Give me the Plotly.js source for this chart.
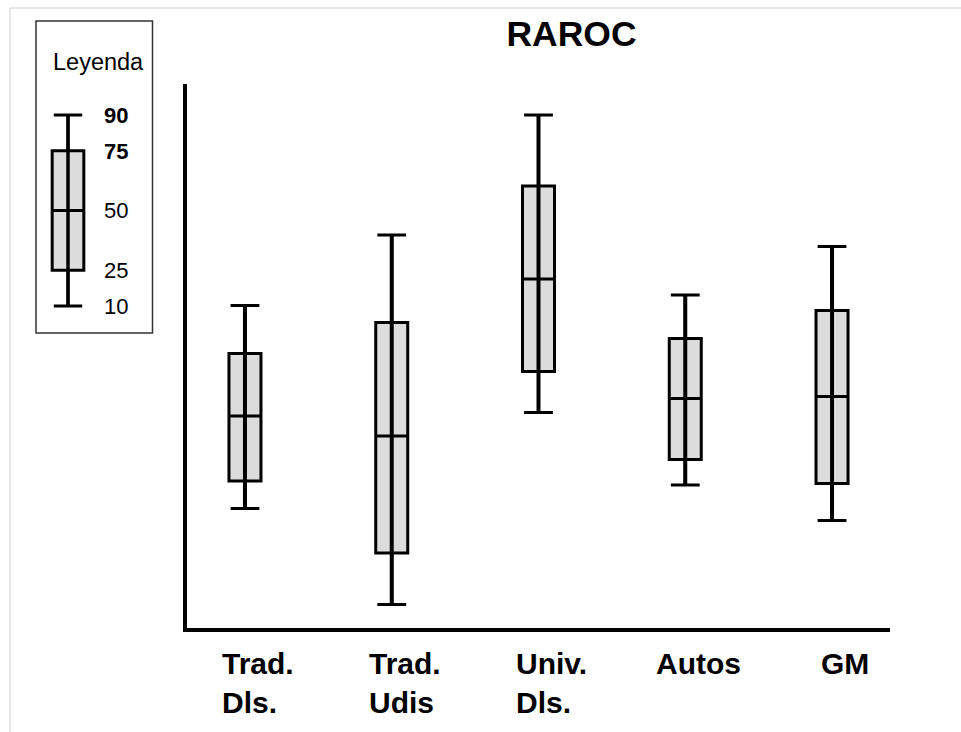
<!DOCTYPE html>
<html>
<head>
<meta charset="utf-8">
<script src="https://cdn.plot.ly/plotly-3.0.1.min.js"></script>
<style>html,body{margin:0;padding:0;background:#fff;}#chart{width:961px;height:732px;}</style>
</head>
<body>
<div id="chart"></div>
<script>
// Categories (two-line labels)
const categories = ["Trad.<br>Dls.", "Trad.<br>Udis", "Univ.<br>Dls.", "Autos", "GM"];
// Percentiles per category (arbitrary RAROC scale)
const p10 = [11.95, 2.35, 21.55, 14.3, 10.75];
const p25 = [14.7, 7.5, 25.65, 16.85, 14.45];
const p50 = [21.2, 19.2, 34.9, 22.95, 23.15];
const p75 = [27.45, 30.55, 44.2, 28.95, 31.75];
const p90 = [32.25, 39.3, 51.3, 33.3, 38.15];

// Legend sample box
const legendPercentiles = [10, 25, 50, 75, 90];
const legendTickText = ["10", "25", "50", "<b>75</b>", "<b>90</b>"];
const legendTitle = "Leyenda";
const chartTitle = "RAROC";

const W = 961, H = 732;
const px = v => v / W;
const py = v => 1 - v / H;

const xIdx = categories.map((_, i) => i);

// vertical center line through each box (from p10 to p90)
const vx = [], vy = [];
xIdx.forEach(i => { vx.push(i, i, null); vy.push(p10[i], p90[i], null); });

const boxTrace = {
  type: "box",
  x: xIdx,
  q1: p25, median: p50, q3: p75,
  lowerfence: p10, upperfence: p90,
  width: 0.218,
  whiskerwidth: 0.9,
  fillcolor: "#dcdcdc",
  line: {color: "#000", width: 3},
  hoverinfo: "skip",
  xaxis: "x", yaxis: "y"
};
const stemTrace = {
  type: "scatter", mode: "lines",
  x: vx, y: vy,
  line: {color: "#000", width: 4},
  hoverinfo: "skip", xaxis: "x", yaxis: "y"
};

const legBox = {
  type: "box",
  x: [0],
  q1: [legendPercentiles[1]], median: [legendPercentiles[2]], q3: [legendPercentiles[3]],
  lowerfence: [legendPercentiles[0]], upperfence: [legendPercentiles[4]],
  width: 0.565,
  whiskerwidth: 0.9,
  fillcolor: "#dcdcdc",
  line: {color: "#000", width: 3},
  hoverinfo: "skip",
  xaxis: "x2", yaxis: "y2"
};
const legStem = {
  type: "scatter", mode: "lines",
  x: [0, 0], y: [legendPercentiles[0], legendPercentiles[4]],
  line: {color: "#000", width: 3.5},
  hoverinfo: "skip", xaxis: "x2", yaxis: "y2"
};

const labelAnnotations = categories.map((c, i) => ({
  text: c, x: i, xref: "x", y: py(645), yref: "paper",
  xanchor: "center", yanchor: "top", align: "left", xshift: 13,
  showarrow: false,
  font: {family: "Liberation Sans, Arial, sans-serif", size: 30, color: "#000", weight: "bold"}
}));

const layout = {
  width: W, height: H,
  margin: {l: 0, r: 0, t: 0, b: 0},
  paper_bgcolor: "#fff", plot_bgcolor: "#fff",
  showlegend: false,
  font: {family: "Liberation Sans, Arial, sans-serif", color: "#000"},
  title: {
    text: "<b>" + chartTitle + "</b>",
    x: px(571.5), xref: "container", xanchor: "center",
    y: py(34), yref: "container", yanchor: "middle",
    font: {size: 35.5, family: "Liberation Sans, Arial, sans-serif", color: "#000"}
  },
  xaxis: {
    domain: [px(187), px(890)], range: [-0.395, 4.395],
    showline: true, linewidth: 4, linecolor: "#000",
    showgrid: false, zeroline: false, showticklabels: false, ticks: "",
    fixedrange: true
  },
  yaxis: {
    domain: [py(628), py(84)], range: [0, 54.4],
    showline: true, linewidth: 4, linecolor: "#000",
    showgrid: false, zeroline: false, showticklabels: false, ticks: "",
    fixedrange: true
  },
  xaxis2: {
    domain: [px(40), px(96)], range: [-0.5, 0.5], anchor: "y2",
    showline: false, showgrid: false, zeroline: false, showticklabels: false, ticks: "",
    fixedrange: true
  },
  yaxis2: {
    domain: [py(329.9), py(91.1)], range: [0, 100], anchor: "x2", side: "right",
    showline: false, showgrid: false, zeroline: false, ticks: "",
    tickmode: "array", tickvals: legendPercentiles, ticktext: legendTickText,
    ticklabelstandoff: 7,
    tickfont: {size: 22, color: "#000", family: "Liberation Sans, Arial, sans-serif"},
    fixedrange: true
  },
  shapes: [
    {type: "rect", xref: "paper", yref: "paper",
     x0: px(36), x1: px(152.5), y0: py(333), y1: py(21),
     line: {color: "#333", width: 1.5}, fillcolor: "rgba(0,0,0,0)"},
    {type: "path", xref: "paper", yref: "paper",
     path: `M ${px(10)} ${py(740)} L ${px(10)} ${py(8)} L ${px(970)} ${py(8)}`,
     line: {color: "#cfcfcf", width: 1}}
  ],
  annotations: [
    {text: legendTitle, x: px(98), xref: "paper", y: py(62), yref: "paper",
     xanchor: "center", yanchor: "middle", showarrow: false,
     font: {size: 23.5, color: "#000", family: "Liberation Sans, Arial, sans-serif"}}
  ].concat(labelAnnotations)
};

Plotly.newPlot("chart", [boxTrace, stemTrace, legBox, legStem], layout, {staticPlot: true, displayModeBar: false});
</script>
</body>
</html>
